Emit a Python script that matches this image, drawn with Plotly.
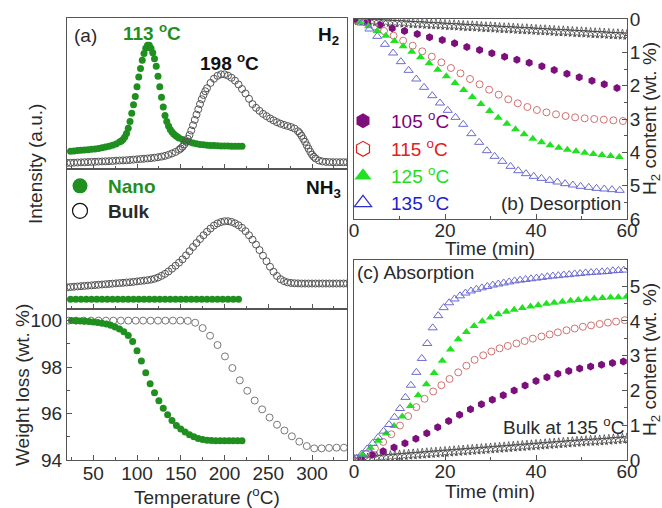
import plotly.graph_objects as go

W, H = 662, 508
def px(x): return x / W
def py(y): return 1 - y / H

FONT = "Liberation Sans, Arial, sans-serif"
GREEN = "#1f8f1f"

# ---------------- Panel (a): H2 TPD ----------------
nano_h2_T = [24, 28, 32, 36, 40, 44, 48, 52, 56, 60, 64, 68, 72, 76, 80, 82, 84, 86, 88, 90,
             92, 94, 96, 98, 100, 102, 104, 106, 108, 110, 112, 114, 116, 118, 120, 122, 124,
             126, 128, 130, 132, 134, 136, 138, 140, 142, 144, 146, 148, 152, 156, 160, 164,
             168, 172, 176, 180, 184, 188, 192, 196, 200, 204, 208, 212, 216, 220]
nano_h2_I = [0.118, 0.12, 0.122, 0.124, 0.126, 0.128, 0.13, 0.133, 0.136, 0.14, 0.145, 0.151,
             0.158, 0.166, 0.178, 0.186, 0.196, 0.212, 0.235, 0.27, 0.315, 0.37, 0.425, 0.48,
             0.545, 0.61, 0.665, 0.72, 0.765, 0.8, 0.82, 0.82, 0.8, 0.77, 0.73, 0.68, 0.615,
             0.545, 0.475, 0.41, 0.355, 0.315, 0.285, 0.262, 0.245, 0.232, 0.222, 0.213, 0.206,
             0.195, 0.185, 0.178, 0.172, 0.167, 0.163, 0.16, 0.158, 0.156, 0.155, 0.154, 0.153,
             0.152, 0.152, 0.151, 0.151, 0.15, 0.15]

bulk_h2_T = [20, 24, 28, 32, 36, 40, 44, 48, 52, 56, 60, 64, 68, 72, 76, 80, 84, 88, 92, 96,
             100, 104, 108, 112, 116, 120, 124, 128, 132, 136, 140, 144, 148, 150, 152, 154,
             156, 158, 160, 162, 164, 166, 168, 170, 172, 174, 176, 178, 180, 184, 188, 192,
             196, 200, 204, 208, 212, 216, 220, 224, 228, 232, 236, 240, 244, 248, 252, 256,
             260, 264, 268, 272, 276, 280, 284, 286, 288, 290, 292, 294, 296, 298, 300, 302,
             304, 308, 312, 316, 320, 324, 328, 332, 336, 340]
bulk_h2_I = [0.04, 0.041, 0.042, 0.043, 0.044, 0.045, 0.046, 0.047, 0.048, 0.049, 0.05, 0.051,
             0.052, 0.053, 0.055, 0.056, 0.057, 0.058, 0.06, 0.062, 0.064, 0.066, 0.068, 0.07,
             0.072, 0.075, 0.078, 0.082, 0.087, 0.094, 0.103, 0.113, 0.127, 0.136, 0.147, 0.162,
             0.18, 0.2, 0.225, 0.255, 0.29, 0.325, 0.36, 0.395, 0.43, 0.462, 0.49, 0.515, 0.535,
             0.57, 0.598, 0.617, 0.627, 0.627, 0.618, 0.604, 0.585, 0.56, 0.53, 0.5, 0.465,
             0.43, 0.405, 0.385, 0.365, 0.35, 0.335, 0.322, 0.31, 0.3, 0.292, 0.285, 0.278,
             0.268, 0.25, 0.237, 0.22, 0.2, 0.18, 0.157, 0.135, 0.114, 0.095, 0.081, 0.07,
             0.056, 0.05, 0.047, 0.046, 0.045, 0.045, 0.045, 0.045, 0.045]

# ---------------- Panel (a): NH3 TPD ----------------
nano_nh3_T = [24, 30, 36, 42, 48, 54, 60, 66, 72, 78, 84, 90, 96, 102, 108, 114, 120, 126,
              132, 138, 144, 150, 156, 162, 168, 174, 180, 186, 192, 198, 204, 210, 216]
nano_nh3_I = [0.07, 0.07, 0.07, 0.07, 0.07, 0.07, 0.07, 0.07, 0.07, 0.07, 0.07, 0.07, 0.07,
              0.07, 0.07, 0.07, 0.07, 0.07, 0.07, 0.07, 0.07, 0.07, 0.07, 0.07, 0.07, 0.07,
              0.07, 0.07, 0.07, 0.07, 0.07, 0.07, 0.07]

bulk_nh3_T = [20, 24, 28, 32, 36, 40, 44, 48, 52, 56, 60, 64, 68, 72, 76, 80, 84, 88, 92, 96,
              100, 104, 108, 112, 116, 120, 124, 128, 132, 136, 140, 144, 148, 152, 156, 160,
              164, 168, 172, 176, 180, 184, 188, 192, 196, 200, 204, 208, 212, 216, 220, 224,
              228, 232, 236, 240, 244, 248, 252, 256, 260, 264, 268, 272, 276, 280, 284, 288,
              292, 296, 300, 304, 308, 312, 316, 320, 324, 328, 332, 336, 340]
bulk_nh3_I = [0.155, 0.157, 0.159, 0.161, 0.163, 0.165, 0.167, 0.169, 0.171, 0.173, 0.175,
              0.177, 0.179, 0.181, 0.183, 0.185, 0.187, 0.189, 0.191, 0.194, 0.197, 0.2, 0.203,
              0.206, 0.21, 0.216, 0.225, 0.237, 0.251, 0.268, 0.288, 0.309, 0.331, 0.355, 0.383,
              0.413, 0.443, 0.471, 0.5, 0.527, 0.552, 0.575, 0.596, 0.611, 0.621, 0.627, 0.627,
              0.622, 0.612, 0.598, 0.58, 0.556, 0.527, 0.495, 0.46, 0.421, 0.381, 0.341, 0.302,
              0.266, 0.236, 0.213, 0.199, 0.19, 0.186, 0.184, 0.183, 0.182, 0.182, 0.182, 0.182,
              0.182, 0.182, 0.182, 0.182, 0.182, 0.182, 0.182, 0.182, 0.182, 0.182]

# ---------------- Panel (a): weight loss ----------------
nano_wt_T = [25, 30, 35, 40, 45, 50, 55, 60, 65, 70, 75, 80, 85, 90, 95, 100, 105, 110, 115,
             120, 125, 130, 135, 140, 145, 150, 155, 160, 165, 170, 175, 180, 185, 190, 195,
             200, 205, 210, 215, 220]
nano_wt = [100.0, 99.99, 99.98, 99.97, 99.96, 99.94, 99.92, 99.89, 99.85, 99.8, 99.73, 99.64,
           99.52, 99.36, 99.1, 98.7, 98.26, 97.76, 97.28, 96.9, 96.55, 96.23, 95.95, 95.7,
           95.49, 95.33, 95.2, 95.09, 95.0, 94.93, 94.88, 94.85, 94.84, 94.83, 94.83, 94.83,
           94.83, 94.83, 94.83, 94.83]

bulk_wt_T = [22, 30.5, 39, 47.5, 56, 64.5, 73, 81.5, 90, 98.5, 107, 115.5, 124, 132.5, 141,
             149.5, 158, 166.5, 175, 183.5, 192, 200.5, 209, 217.5, 226, 234.5, 243, 251.5,
             260, 268.5, 277, 285.5, 294, 302.5, 311, 319.5, 328, 336.5]
bulk_wt = [100.0, 100.0, 100.0, 100.0, 100.0, 100.0, 100.0, 100.0, 100.0, 100.0, 100.0, 100.0,
           100.0, 100.0, 100.0, 100.0, 99.99, 99.91, 99.68, 99.35, 98.95, 98.46, 97.96, 97.43,
           96.98, 96.56, 96.18, 95.83, 95.52, 95.27, 95.02, 94.79, 94.6, 94.5, 94.5, 94.52,
           94.53, 94.53]

# ---------------- Panel (b): desorption ----------------
des_105_t = [0.2, 3.0, 5.7, 8.4, 11.1, 13.9, 16.6, 19.4, 22.1, 24.8, 27.6, 30.3, 33.1, 35.8,
             38.5, 41.3, 44.0, 46.8, 49.5, 52.3, 55.0, 57.8]
des_105 = [0.02, 0.08, 0.18, 0.28, 0.36, 0.45, 0.55, 0.63, 0.73, 0.84, 0.93, 1.03, 1.13, 1.22,
           1.31, 1.42, 1.53, 1.64, 1.75, 1.85, 1.96, 2.07]
des_115_t = [0.3, 2.4, 4.5, 6.6, 8.7, 10.8, 12.9, 15.0, 17.1, 19.2, 21.3, 23.4, 25.5, 27.6,
             29.7, 31.8, 33.9, 36.0, 38.1, 40.2, 42.3, 44.4, 46.5, 48.6, 50.7, 52.8, 54.9,
             57.0, 59.1]
des_115 = [0.02, 0.1, 0.22, 0.36, 0.5, 0.65, 0.8, 0.97, 1.13, 1.3, 1.47, 1.63, 1.8, 1.96, 2.12,
           2.27, 2.41, 2.53, 2.64, 2.73, 2.8, 2.86, 2.91, 2.95, 2.98, 3.0, 3.02, 3.04, 3.06]
des_125_t = [1.3, 3.2, 5.1, 7.0, 8.9, 10.8, 12.7, 14.6, 16.5, 18.4, 20.3, 22.2, 24.1, 26.0,
             27.9, 29.8, 31.7, 33.6, 35.5, 37.4, 39.3, 41.2, 43.1, 45.0, 46.9, 48.8, 50.7,
             52.6, 54.5, 56.4, 58.3]
des_125 = [0.1, 0.22, 0.36, 0.5, 0.66, 0.82, 0.98, 1.15, 1.33, 1.52, 1.72, 1.92, 2.13, 2.34,
           2.55, 2.76, 2.96, 3.14, 3.31, 3.46, 3.59, 3.7, 3.79, 3.86, 3.92, 3.97, 4.01, 4.05,
           4.08, 4.11, 4.14]
des_135_t = [1.7, 3.4, 5.1, 6.8, 8.6, 10.3, 12.0, 13.7, 15.4, 17.2, 18.9, 20.6, 22.3, 24.0,
             25.8, 27.5, 29.2, 30.9, 32.6, 34.4, 36.1, 37.8, 39.5, 41.2, 43.0, 44.7, 46.4,
             48.1, 49.8, 51.6, 53.3, 55.0, 56.7, 58.4]
des_135 = [0.12, 0.3, 0.52, 0.76, 1.02, 1.28, 1.54, 1.8, 2.05, 2.3, 2.52, 2.74, 2.95, 3.16,
           3.44, 3.7, 3.95, 4.12, 4.27, 4.42, 4.55, 4.64, 4.72, 4.78, 4.84, 4.89, 4.94, 4.98,
           5.02, 5.05, 5.08, 5.1, 5.12, 5.14]
des_bulk_t = [0, 1, 2, 3, 4, 5, 6, 7, 8, 9, 10, 11, 12, 13, 14, 15, 16, 17, 18, 19, 20, 21, 22,
              23, 24, 25, 26, 27, 28, 29, 30, 31, 32, 33, 34, 35, 36, 37, 38, 39, 40, 41, 42,
              43, 44, 45, 46, 47, 48, 49, 50, 51, 52, 53, 54, 55, 56, 57, 58, 59, 60]
des_bulk = [0.03, 0.04, 0.05, 0.05, 0.06, 0.07, 0.08, 0.08, 0.09, 0.1, 0.1, 0.11, 0.12, 0.13,
            0.13, 0.14, 0.15, 0.16, 0.16, 0.17, 0.18, 0.19, 0.19, 0.2, 0.21, 0.22, 0.22, 0.23,
            0.24, 0.25, 0.25, 0.26, 0.27, 0.28, 0.28, 0.29, 0.3, 0.31, 0.31, 0.32, 0.33, 0.34,
            0.34, 0.35, 0.36, 0.37, 0.37, 0.38, 0.39, 0.4, 0.4, 0.41, 0.42, 0.43, 0.43, 0.44,
            0.45, 0.46, 0.46, 0.47, 0.48]

# ---------------- Panel (c): absorption ----------------
abs_105_t = [1.6, 4.0, 6.4, 8.8, 11.2, 13.6, 16.0, 18.4, 20.8, 23.2, 25.6, 28.0, 30.4, 32.8,
             35.2, 37.6, 40.0, 42.4, 44.8, 47.2, 49.6, 52.0, 54.4, 56.8, 59.2]
abs_105 = [0.05, 0.15, 0.25, 0.36, 0.48, 0.61, 0.77, 0.94, 1.12, 1.3, 1.46, 1.6, 1.73, 1.86,
           2.0, 2.14, 2.27, 2.38, 2.48, 2.56, 2.63, 2.69, 2.74, 2.79, 2.83]
abs_115_t = [0.9, 2.7, 4.6, 6.4, 8.2, 10.1, 11.9, 13.7, 15.5, 17.4, 19.2, 21.0, 22.9, 24.7,
             26.5, 28.4, 30.2, 32.0, 33.8, 35.7, 37.5, 39.3, 41.2, 43.0, 44.8, 46.7, 48.5,
             50.3, 52.1, 54.0, 55.8, 57.6, 59.5]
abs_115 = [0.05, 0.17, 0.33, 0.52, 0.74, 0.99, 1.26, 1.52, 1.76, 1.97, 2.15, 2.33, 2.52, 2.71,
           2.88, 3.01, 3.12, 3.21, 3.28, 3.35, 3.42, 3.49, 3.55, 3.61, 3.67, 3.73, 3.78, 3.83,
           3.87, 3.91, 3.95, 3.98, 4.02]
abs_125_t = [1.8, 3.6, 5.3, 7.1, 8.8, 10.6, 12.4, 14.1, 15.9, 17.6, 19.4, 21.2, 22.9, 24.7,
             26.4, 28.2, 30.0, 31.7, 33.5, 35.2, 37.0, 38.8, 40.5, 42.3, 44.0, 45.8, 47.6,
             49.3, 51.1, 52.8, 54.6, 56.4, 58.1, 59.9]
abs_125 = [0.15, 0.35, 0.55, 0.76, 0.98, 1.25, 1.55, 1.86, 2.18, 2.5, 2.85, 3.18, 3.47, 3.68,
           3.85, 3.99, 4.1, 4.19, 4.26, 4.32, 4.37, 4.41, 4.45, 4.49, 4.52, 4.55, 4.58, 4.6,
           4.62, 4.64, 4.66, 4.67, 4.68, 4.69]
abs_135_t = [0.5, 1.7, 2.9, 4.1, 5.3, 6.5, 7.7, 8.9, 10.1, 11.3, 12.5, 13.7, 14.9, 16.1, 17.3,
             18.5, 19.7, 20.9, 22.1, 23.3, 24.5, 25.7, 26.9, 28.1, 29.3, 30.5, 31.7, 32.9,
             34.1, 35.3, 36.5, 37.7, 38.9, 40.1, 41.3, 42.5, 43.7, 44.9, 46.1, 47.3, 48.5,
             49.7, 50.9, 52.1, 53.3, 54.5, 55.7, 56.9, 58.1, 59.3]
abs_135 = [0.05, 0.17, 0.32, 0.48, 0.65, 0.83, 1.02, 1.23, 1.48, 1.8, 2.15, 2.52, 2.92, 3.35,
           3.8, 4.15, 4.38, 4.52, 4.63, 4.72, 4.8, 4.86, 4.91, 4.95, 4.99, 5.03, 5.06, 5.09,
           5.12, 5.15, 5.17, 5.19, 5.21, 5.23, 5.25, 5.27, 5.29, 5.3, 5.32, 5.33, 5.35, 5.36,
           5.38, 5.39, 5.4, 5.41, 5.42, 5.44, 5.45, 5.46]
abs_bulk_t = [0, 1, 2, 3, 4, 5, 6, 7, 8, 9, 10, 11, 12, 13, 14, 15, 16, 17, 18, 19, 20, 21, 22,
              23, 24, 25, 26, 27, 28, 29, 30, 31, 32, 33, 34, 35, 36, 37, 38, 39, 40, 41, 42,
              43, 44, 45, 46, 47, 48, 49, 50, 51, 52, 53, 54, 55, 56, 57, 58, 59, 60]
abs_bulk = [0.0, 0.01, 0.02, 0.04, 0.06, 0.08, 0.09, 0.1, 0.11, 0.12, 0.13, 0.14, 0.15, 0.16,
            0.17, 0.18, 0.19, 0.2, 0.21, 0.22, 0.23, 0.24, 0.25, 0.26, 0.27, 0.28, 0.29, 0.3,
            0.31, 0.32, 0.33, 0.34, 0.35, 0.36, 0.37, 0.38, 0.39, 0.4, 0.41, 0.42, 0.43, 0.44,
            0.45, 0.46, 0.47, 0.48, 0.49, 0.5, 0.51, 0.52, 0.53, 0.54, 0.55, 0.55, 0.56, 0.57,
            0.58, 0.59, 0.6, 0.61, 0.62]

temp_ticks = [50, 100, 150, 200, 250, 300]
wt_ticks = [94, 96, 98, 100]
time_ticks = [0, 20, 40, 60]
des_ticks = [0, 1, 2, 3, 4, 5, 6]
abs_ticks = [0, 1, 2, 3, 4, 5]

fig = go.Figure()

nano_m = dict(symbol="circle", size=7, color=GREEN, line=dict(width=0))
bulk_m = dict(symbol="circle-open", size=7, color="#555555", line=dict(width=1))

fig.add_trace(go.Scatter(x=nano_h2_T, y=nano_h2_I, mode="markers", marker=nano_m,
                         xaxis="x", yaxis="y", showlegend=False))
fig.add_trace(go.Scatter(x=bulk_h2_T, y=bulk_h2_I, mode="markers", marker=bulk_m,
                         xaxis="x", yaxis="y", showlegend=False))
fig.add_trace(go.Scatter(x=bulk_nh3_T, y=bulk_nh3_I, mode="markers", marker=bulk_m,
                         xaxis="x2", yaxis="y2", showlegend=False))
fig.add_trace(go.Scatter(x=nano_nh3_T, y=nano_nh3_I, mode="markers", marker=nano_m,
                         xaxis="x2", yaxis="y2", showlegend=False))
fig.add_trace(go.Scatter(x=bulk_wt_T, y=bulk_wt, mode="markers",
                         marker=dict(symbol="circle-open", size=7, color="#777777", line=dict(width=1)),
                         xaxis="x3", yaxis="y3", showlegend=False))
fig.add_trace(go.Scatter(x=nano_wt_T, y=nano_wt, mode="markers", marker=nano_m,
                         xaxis="x3", yaxis="y3", showlegend=False))

C105, C115, C125, C135 = "#7d0f7d", "#d07070", "#22e022", "#6a6ad0"

for xa, ya, sets in [
    ("x4", "y4", [(des_bulk_t, des_bulk), (des_105_t, des_105), (des_115_t, des_115),
                  (des_125_t, des_125), (des_135_t, des_135)]),
    ("x5", "y5", [(abs_bulk_t, abs_bulk), (abs_105_t, abs_105), (abs_115_t, abs_115),
                  (abs_125_t, abs_125), (abs_135_t, abs_135)]),
]:
    styles = [
        dict(symbol="star-open", size=8, color="#333333", line=dict(width=0.7)),
        dict(symbol="hexagon", size=8, color=C105, line=dict(width=0)),
        dict(symbol="circle-open", size=7, color=C115, line=dict(width=1)),
        dict(symbol="triangle-up", size=8, color=C125, line=dict(width=0)),
        dict(symbol="triangle-up-open", size=8, color=C135, line=dict(width=1)),
    ]
    for (tx, ty), st in zip(sets, styles):
        fig.add_trace(go.Scatter(x=tx, y=ty, mode="markers", marker=st, xaxis=xa, yaxis=ya,
                                 showlegend=False))

# legend entries: each in its own legend box so rows can be placed freely
legend_items = [
    ("legend", "<b><span style='color:#1f8f1f'>Nano</span></b>",
     dict(symbol="circle", size=15, color=GREEN), "x2", "y2", 80, 185),
    ("legend2", "<b>Bulk</b>",
     dict(symbol="circle-open", size=15, color="#111111", line=dict(width=1.2)), "x2", "y2", 80, 210),
    ("legend3", "<span style='color:#800080'>105 <sup>o</sup>C</span>",
     dict(symbol="hexagon", size=15, color="#7d0f7d"), "x4", "y4", 363, 120),
    ("legend4", "<span style='color:#e02020'>115 <sup>o</sup>C</span>",
     dict(symbol="hexagon-open", size=15, color="#e02020", line=dict(width=1.2)), "x4", "y4", 363, 148),
    ("legend5", "<span style='color:#22dd22'>125 <sup>o</sup>C</span>",
     dict(symbol="triangle-up", size=15, color="#22e022"), "x4", "y4", 363, 175),
    ("legend6", "<span style='color:#2020d0'>135 <sup>o</sup>C</span>",
     dict(symbol="triangle-up-open", size=15, color="#3030c8", line=dict(width=1.2)), "x4", "y4", 363, 202),
]
legend_layouts = {}
for lg, nm, mk, xa, ya, cx, cy in legend_items:
    fig.add_trace(go.Scatter(x=[None], y=[None], mode="markers", name=nm, marker=mk,
                             xaxis=xa, yaxis=ya, legend=lg, showlegend=True))
    legend_layouts[lg] = dict(x=px(cx - 28), y=py(cy - 18), xanchor="left", yanchor="top",
                              bgcolor="rgba(0,0,0,0)",
                              font=dict(family=FONT, size=19, weight="normal"),
                              itemwidth=46, itemsizing="trace")

LX = [px(67), px(347)]
RX = [px(354), px(627)]
TXT = "#2a2a2a"
TF = dict(family=FONT, size=19, color=TXT, weight="normal")
AX = dict(showline=True, linecolor="#555555", linewidth=1, mirror=True, showgrid=False,
          zeroline=False, ticks="inside", tickcolor="#555555", automargin=False,
          tickfont=TF)
MINX = dict(ticks="inside", ticklen=3, tickcolor="#555555")

layout_axes = dict(
    xaxis=dict(AX, domain=LX, range=[20, 340], anchor="y", tickvals=temp_ticks, ticklen=5,
               showticklabels=False, minor=dict(MINX, dtick=25, tick0=0)),
    yaxis=dict(AX, domain=[py(169), py(18)], range=[0, 1], anchor="x", ticks="", showticklabels=False),
    xaxis2=dict(AX, domain=LX, range=[20, 340], anchor="y2", tickvals=temp_ticks, ticklen=5,
                showticklabels=False, minor=dict(MINX, dtick=25, tick0=0)),
    yaxis2=dict(AX, domain=[py(309), py(169)], range=[0, 1], anchor="x2", ticks="", showticklabels=False),
    xaxis3=dict(AX, domain=LX, range=[20, 340], anchor="y3", tickvals=temp_ticks, ticklen=5,
                ticklabelstandoff=-4, minor=dict(MINX, dtick=25, tick0=0)),
    yaxis3=dict(AX, domain=[py(460), py(309)], range=[94, 100.5], anchor="x3", tickvals=wt_ticks,
                ticklen=5, minor=dict(MINX, dtick=1, tick0=0)),
    xaxis4=dict(AX, domain=RX, range=[0, 60], anchor="y4", tickvals=time_ticks, ticklen=5,
                ticklabelstandoff=-6, minor=dict(MINX, dtick=10, tick0=0)),
    yaxis4=dict(AX, domain=[py(219), py(19)], range=[6, 0], anchor="x4", side="right",
                tickvals=des_ticks, ticklen=5, ticklabelstandoff=-2,
                minor=dict(MINX, dtick=0.5, tick0=0)),
    xaxis5=dict(AX, domain=RX, range=[0, 60], anchor="y5", tickvals=time_ticks, ticklen=5,
                ticklabelstandoff=-6, minor=dict(MINX, dtick=10, tick0=0)),
    yaxis5=dict(AX, domain=[py(460), py(260)], range=[0, 5.75], anchor="x5", side="right",
                tickvals=abs_ticks, ticklen=5, ticklabelstandoff=-2,
                minor=dict(MINX, dtick=0.5, tick0=0)),
)

def ann(text, x, y, xanchor="center", size=19, color=TXT, bold=False, angle=0):
    if bold:
        text = "<b>" + text + "</b>"
    return dict(text=text, x=px(x), y=py(y), xref="paper", yref="paper", xanchor=xanchor,
                yanchor="middle", showarrow=False, textangle=angle,
                font=dict(family=FONT, size=size, color=color))

annotations = [
    ann("(a)", 72, 36, xanchor="left"),
    ann("113 <sup>o</sup>C", 152, 32, bold=True, color=GREEN),
    ann("198 <sup>o</sup>C", 229, 62, bold=True, color="#111111"),
    ann("H<sub>2</sub>", 341, 36, xanchor="right", bold=True, color="#111111"),
    ann("NH<sub>3</sub>", 343, 189, xanchor="right", bold=True, color="#111111"),
    ann("Intensity (a.u.)", 35, 164, angle=-90),
    ann("Weight loss (wt. %)", 22, 385, angle=-90),
    ann("Temperature (<sup>o</sup>C)", 207, 496),
    ann("(b) Desorption", 623, 204, xanchor="right"),
    ann("Time (min)", 490, 248),
    ann("H<sub>2</sub> content (wt. %)", 651, 119, angle=-90),
    ann("(c) Absorption", 355, 272, xanchor="left"),
    ann("Bulk at 135 <sup>o</sup>C", 626, 426, xanchor="right"),
    ann("Time (min)", 490, 491),
    ann("H<sub>2</sub> content (wt. %)", 651, 360, angle=-90),
]

fig.update_layout(
    width=W, height=H, margin=dict(l=0, r=0, t=0, b=0),
    paper_bgcolor="white", plot_bgcolor="white",
    font=dict(family=FONT, size=19, color=TXT),
    annotations=annotations,
    **legend_layouts,
    **layout_axes,
)

fig.write_html("out.html", config={"displayModeBar": False},
               post_script="document.body.style.margin='0px';")
